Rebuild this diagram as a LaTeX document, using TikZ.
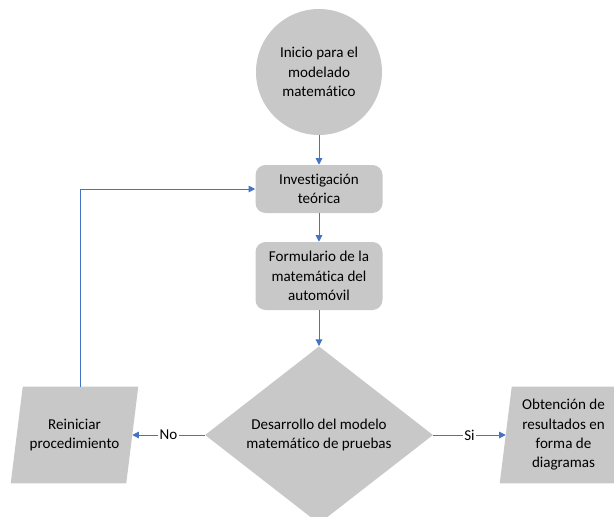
\documentclass[tikz,border=0pt]{standalone}
\usepackage{fontspec}
\setmainfont{Carlito}[Ligatures=NoCommon]
\usetikzlibrary{shapes.geometric,arrows.meta,calc,backgrounds}
\definecolor{boxgray}{RGB}{200,200,200}
\definecolor{linkblue}{RGB}{68,114,196}
\begin{document}
\begin{tikzpicture}[x=0.75pt,y=-0.75pt,
  every node/.style={font=\fontsize{11.3}{14.5}\selectfont, align=center, text=black},
  shapebox/.style={fill=boxgray, draw=none, inner sep=0pt},
  roundbox/.style={shapebox, rectangle, rounded corners=7.5pt, minimum width=95.25pt, minimum height=36pt},
  startbox/.style={shapebox, circle, minimum size=94.5pt},
  decbox/.style={shapebox, diamond, minimum width=171pt, minimum height=130.5pt},
  parabox/.style={rectangle, draw=none, inner sep=0pt, minimum width=86.25pt, minimum height=72pt},
  parafill/.style={fill=boxgray},
  link/.style={draw=linkblue, line width=0.75pt, -{Triangle[length=5pt,width=5pt]}},
  lab/.style={fill=white, inner sep=1pt}
]
\useasboundingbox (0,0) rectangle (614,517);
\clip (0,0) rectangle (614,517);
\node[startbox] (start) at (319,72) {Inicio para el\\modelado\\matemático};
\node[roundbox] (inv) at (319,189) {Investigación\\teórica};
\node[roundbox, minimum height=51pt] (form) at (319,276) {Formulario de la\\matemática del\\automóvil};
\node[decbox] (dec) at (319,435) {Desarrollo del modelo\\matemático de pruebas};
\node[parabox] (reset) at (74.5,435) {Reiniciar\\procedimiento};
\node[parabox] (res) at (563.5,435) {Obtención de\\resultados en\\forma de\\diagramas};
\begin{scope}[on background layer]
  \fill[parafill] ([xshift=-4.5pt]reset.south west) -- ([xshift=-4.5pt]reset.south east) -- ([xshift=4.5pt]reset.north east) -- ([xshift=4.5pt]reset.north west) -- cycle;
  \fill[parafill] ([xshift=-4.5pt]res.south west) -- ([xshift=-4.5pt]res.south east) -- ([xshift=4.5pt]res.north east) -- ([xshift=4.5pt]res.north west) -- cycle;
\end{scope}
\coordinate (resettop) at ([xshift=4.5pt]reset.north);
\draw[link] (start) -- (inv);
\draw[link] (inv) -- (form);
\draw[link] (form) -- (dec);
\draw[link] (dec.west) -- node[lab]{No} (reset.east);
\draw[link] (dec.east) -- node[lab]{Si} (res.west);
\draw[link] (resettop) |- (inv.west);
\end{tikzpicture}
\end{document}
